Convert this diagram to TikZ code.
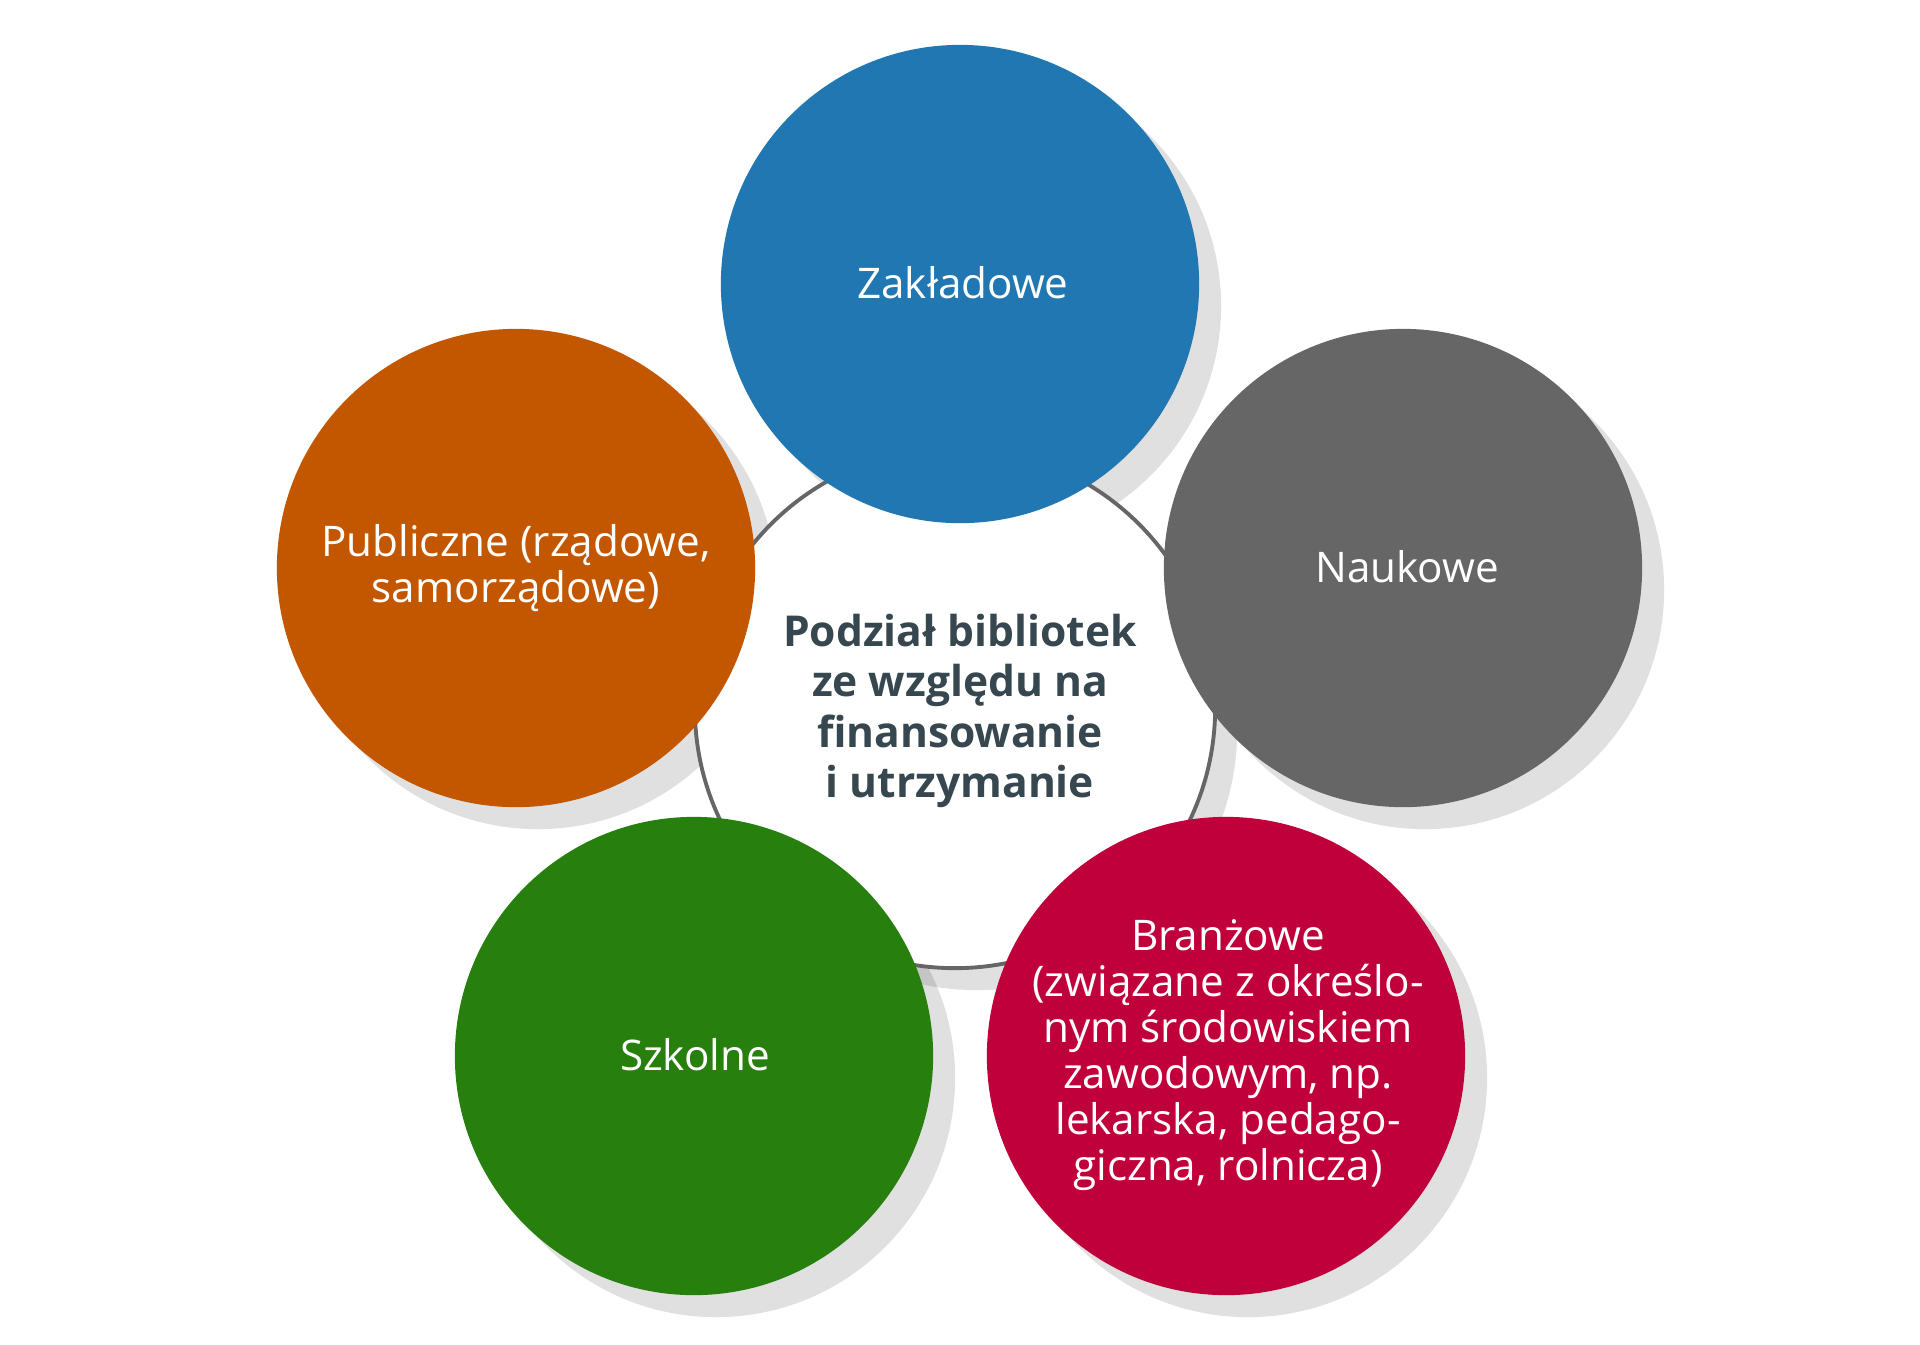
\documentclass[tikz,border=0pt]{standalone}
\usepackage{fontspec}
\setmainfont{Open Sans}
\usepackage{tikz}
\definecolor{zakBlue}{HTML}{2177B1}
\definecolor{naukGrey}{HTML}{666666}
\definecolor{publOrange}{HTML}{C25700}
\definecolor{szkGreen}{HTML}{277F0E}
\definecolor{branRed}{HTML}{C0003A}
\definecolor{titleInk}{HTML}{37474F}
\tikzset{
	kind/.style={text=white, align=center, font=\fontsize{12}{13.1}\selectfont},
	hub/.style={text=titleInk, align=center, font=\bfseries\fontsize{12.1}{14.3}\selectfont}
}

\begin{document}
\begin{tikzpicture}[x=0.01cm, y=-0.01cm]
				\useasboundingbox (0,0) rectangle (1920,1344);
				% shadows
				\foreach \cx/\cy/\r in {960/284/2.39cm, 1403/568/2.39cm, 516/568/2.39cm, 694/1056/2.39cm, 1226/1056/2.39cm, 955/708/2.6cm} {
					\fill[black, opacity=.12] (\cx+22,\cy+22) circle (\r);
				}
				\draw[draw=naukGrey, line width=1.1pt, fill=white] (955,708) circle (2.6cm);
				\draw[draw=none, fill=zakBlue] (960,284) circle (2.39cm);
				\draw[draw=none, fill=naukGrey] (1403,568) circle (2.39cm);
				\draw[draw=none, fill=publOrange] (516,568) circle (2.39cm);
				\draw[draw=none, fill=szkGreen] (694,1056) circle (2.39cm);
				\draw[draw=none, fill=branRed] (1226,1056) circle (2.39cm);
				\node[hub] (podzial) at (960,711) {Podział bibliotek\\ze względu na\\finansowanie\\i utrzymanie};
				\node[kind] (zaklad) at (963,283) {Zakładowe};
				\node[kind] (nauk) at (1407,567) {Naukowe};
				\node[kind] (publ) at (516,568) {Publiczne (rządowe,\\samorządowe)};
				\node[kind] (szkol) at (695,1055) {Szkolne};
				\node[kind] (branz) at (1228,1055) {Branżowe\\(związane z określo-\\nym środowiskiem\\zawodowym, np.\\lekarska, pedago-\\giczna, rolnicza)};
			\end{tikzpicture}
\end{document}
